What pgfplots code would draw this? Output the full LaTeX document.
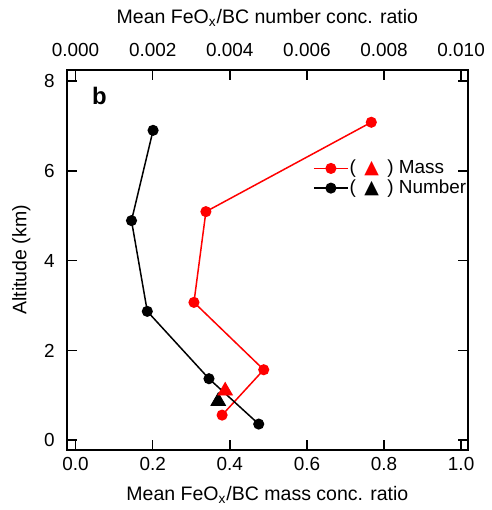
\documentclass[border=0pt]{standalone}
\usepackage{fontspec}
\setmainfont{Liberation Sans}
\newfontfamily\symfont{DejaVu Sans}
\usepackage{pgfplots}
\pgfplotsset{compat=1.18}
\pgfplotsset{
  common/.style={
    scale only axis, width=201.5pt, height=191pt,
    ymin=-0.22, ymax=8.25, ytick={0,2,4,6,8},
    /pgf/number format/assume math mode=true,
    tick style={line width=0.8pt, black},
    major tick length=5pt,
    axis line style={line width=1pt},
    tick label style={font=\fontsize{9.5}{11}\selectfont},
    label style={font=\fontsize{9.8}{11}\selectfont},
    scaled x ticks=false,
  }
}
\begin{document}
\begin{tikzpicture}[font=\fontsize{9.5}{11}\selectfont]
\begin{axis}[common,
  xmin=-0.023, xmax=1.018, xtick={0,0.2,0.4,0.6,0.8,1.0},
  x tick label style={/pgf/number format/.cd, fixed, fixed zerofill, precision=1, /tikz/.cd},
  y tick label style={xshift=-2.5pt},
  xlabel={Mean FeO\textsubscript{x}/BC mass conc. ratio},
  xlabel style={yshift=-1pt},
  ylabel={Altitude (km)}, ylabel shift=0pt,
  legend style={draw=none, fill=none, at={(axis cs:0.61,6.38)}, anchor=north west,
    font=\fontsize{9.5}{11}\selectfont, row sep=-2.5pt, inner sep=1pt,
    nodes={inner xsep=0.5pt}},
  legend cell align=left,
  legend image post style={mark size=2.4pt},
]
\addplot[red, line width=0.75pt, mark=*, mark size=2.4pt] coordinates {
  (0.767,7.08) (0.338,5.09) (0.307,3.07) (0.488,1.57) (0.380,0.56)
};
\addlegendentry{(\, {\color{red}\symfont\fontsize{9.5}{9}\selectfont ▲}\, ) Mass}
\addlegendimage{black, line width=0.75pt, mark=*}
\addlegendentry{(\, {\symfont\fontsize{9.5}{9}\selectfont ▲}\, ) Number}
\node[font=\fontsize{12}{14}\selectfont\bfseries] at (axis cs:0.062,7.67) {b};
\coordinate (sw) at (rel axis cs:0,0);
\coordinate (ne) at (rel axis cs:1,1);
\end{axis}
\begin{axis}[common,
  axis x line*=top, axis y line=none,
  xmin=-0.00023, xmax=0.01018, xtick={0,0.002,0.004,0.006,0.008,0.010},
  x tick label style={/pgf/number format/.cd, fixed, fixed zerofill, precision=3, /tikz/.cd},
  xticklabel style={yshift=3pt},
  xlabel={Mean FeO\textsubscript{x}/BC number conc. ratio},
  xlabel style={yshift=1.5pt},
]
\addplot[black, line width=0.75pt, mark=*, mark size=2.4pt] coordinates {
  (0.00201,6.90) (0.00145,4.89) (0.00186,2.87) (0.00346,1.37) (0.00475,0.36)
};
\addplot[black, only marks, mark=triangle*, mark size=4.2pt] coordinates {(0.0037,0.87)};
\end{axis}
\begin{axis}[common, hide axis, xmin=-0.023, xmax=1.018]
\addplot[red, only marks, mark=triangle*, mark size=4.2pt] coordinates {(0.388,1.10)};
\end{axis}
\path ([shift={(-33.5pt,-29pt)}]sw) rectangle ([shift={(11pt,35pt)}]ne);
\end{tikzpicture}
\end{document}
